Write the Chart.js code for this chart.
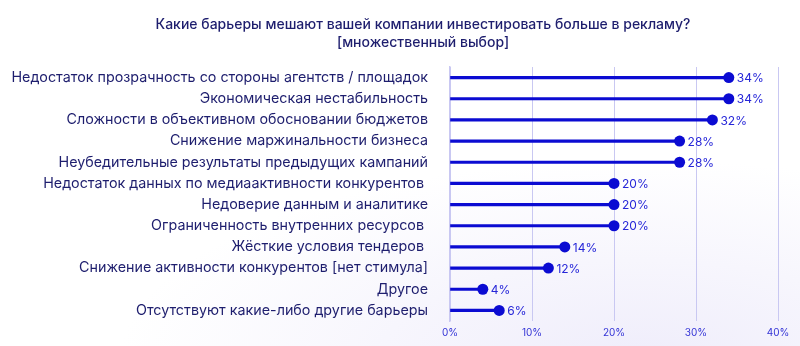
<!DOCTYPE html>
<html>
<head>
<meta charset="utf-8">
<script src="https://cdn.jsdelivr.net/npm/chart.js@4.4.1/dist/chart.umd.min.js"></script>
<style>
  html, body { margin: 0; padding: 0; }
  body {
    width: 800px; height: 346px; overflow: hidden;
    background: radial-gradient(ellipse 520px 200px at 640px 360px, #efedfb 0%, #ffffff 100%);
  }
  #wrap { position: relative; width: 800px; height: 346px; }
</style>
</head>
<body>
<div id="wrap"><canvas id="chart"></canvas></div>
<script>
var titleLines = [
  "Какие барьеры мешают вашей компании инвестировать больше в рекламу?",
  "[множественный выбор]"
];

var categories = [
  "Недостаток прозрачность со стороны агентств / площадок",
  "Экономическая нестабильность",
  "Сложности в объективном обосновании бюджетов",
  "Снижение маржинальности бизнеса",
  "Неубедительные результаты предыдущих кампаний",
  "Недостаток данных по медиаактивности конкурентов ",
  "Недоверие данным и аналитике",
  "Ограниченность внутренних ресурсов ",
  "Жёсткие условия тендеров ",
  "Снижение активности конкурентов [нет стимула]",
  "Другое",
  "Отсутствуют какие-либо другие барьеры"
];

var values = [34, 34, 32, 28, 28, 20, 20, 20, 14, 12, 4, 6];

var xTicks = [0, 10, 20, 30, 40];

var fontFam = "Inter, 'Noto Sans', sans-serif";
var navy = "#1e1e6e";
var blue = "#0b0bd2";

// заголовок рисуем сами, чтобы сдвинуть центр как на картинке
var titlePlugin = {
  id: "titleDraw",
  afterDraw: function(chart) {
    var ctx = chart.ctx;
    ctx.save();
    ctx.fillStyle = navy;
    ctx.font = "500 14px " + fontFam;
    ctx.textAlign = "center";
    ctx.textBaseline = "middle";
    ctx.fillText(titleLines[0], 423, 25);
    ctx.fillText(titleLines[1], 423, 43);
    ctx.restore();
  }
};

// подписи значений справа от точек
var labelPlugin = {
  id: "valueLabels",
  afterDatasetsDraw: function(chart) {
    var ctx = chart.ctx;
    var meta = chart.getDatasetMeta(1);
    ctx.save();
    ctx.fillStyle = "#2626d8";
    ctx.font = "12px " + fontFam;
    ctx.textAlign = "left";
    ctx.textBaseline = "middle";
    meta.data.forEach(function(pt, i) {
      ctx.fillText(values[i] + "%", pt.x + 8, pt.y + 1);
    });
    ctx.restore();
  }
};

var ctx = document.getElementById("chart").getContext("2d");
var chart = new Chart(ctx, {
  type: "bar",
  data: {
    labels: categories,
    datasets: [
      {
        type: "bar",
        data: values,
        backgroundColor: blue,
        barThickness: 2.5,
        borderWidth: 0,
        order: 2
      },
      {
        type: "line",
        data: values,
        showLine: false,
        pointRadius: 5.5,
        pointHoverRadius: 5.5,
        pointBackgroundColor: blue,
        pointBorderWidth: 0,
        order: 1
      }
    ]
  },
  options: {
    indexAxis: "y",
    responsive: true,
    maintainAspectRatio: false,
    animation: false,
    layout: { padding: { top: 67, right: 22, left: 0, bottom: 1 } },
    plugins: {
      legend: { display: false },
      title: { display: false },
      tooltip: { enabled: false }
    },
    scales: {
      x: {
        min: 0,
        max: 40,
        afterBuildTicks: function(scale) {
          scale.ticks = xTicks.map(function(v) { return { value: v }; });
        },
        grid: {
          color: "#c9c8f2",
          lineWidth: 1,
          drawTicks: false
        },
        border: { display: false },
        ticks: {
          color: "#3434d6",
          font: { family: fontFam, size: 10 },
          padding: 6,
          callback: function(v) { return v + "%"; }
        }
      },
      y: {
        grid: { display: false },
        border: { display: true, color: "#c9c8f2", width: 1.5 },
        afterFit: function(scale) { scale.width = 450; },
        ticks: {
          color: navy,
          font: { family: fontFam, size: 14.3 },
          padding: 14,
          autoSkip: false
        }
      }
    }
  },
  plugins: [titlePlugin, labelPlugin]
});
</script>
</body>
</html>
